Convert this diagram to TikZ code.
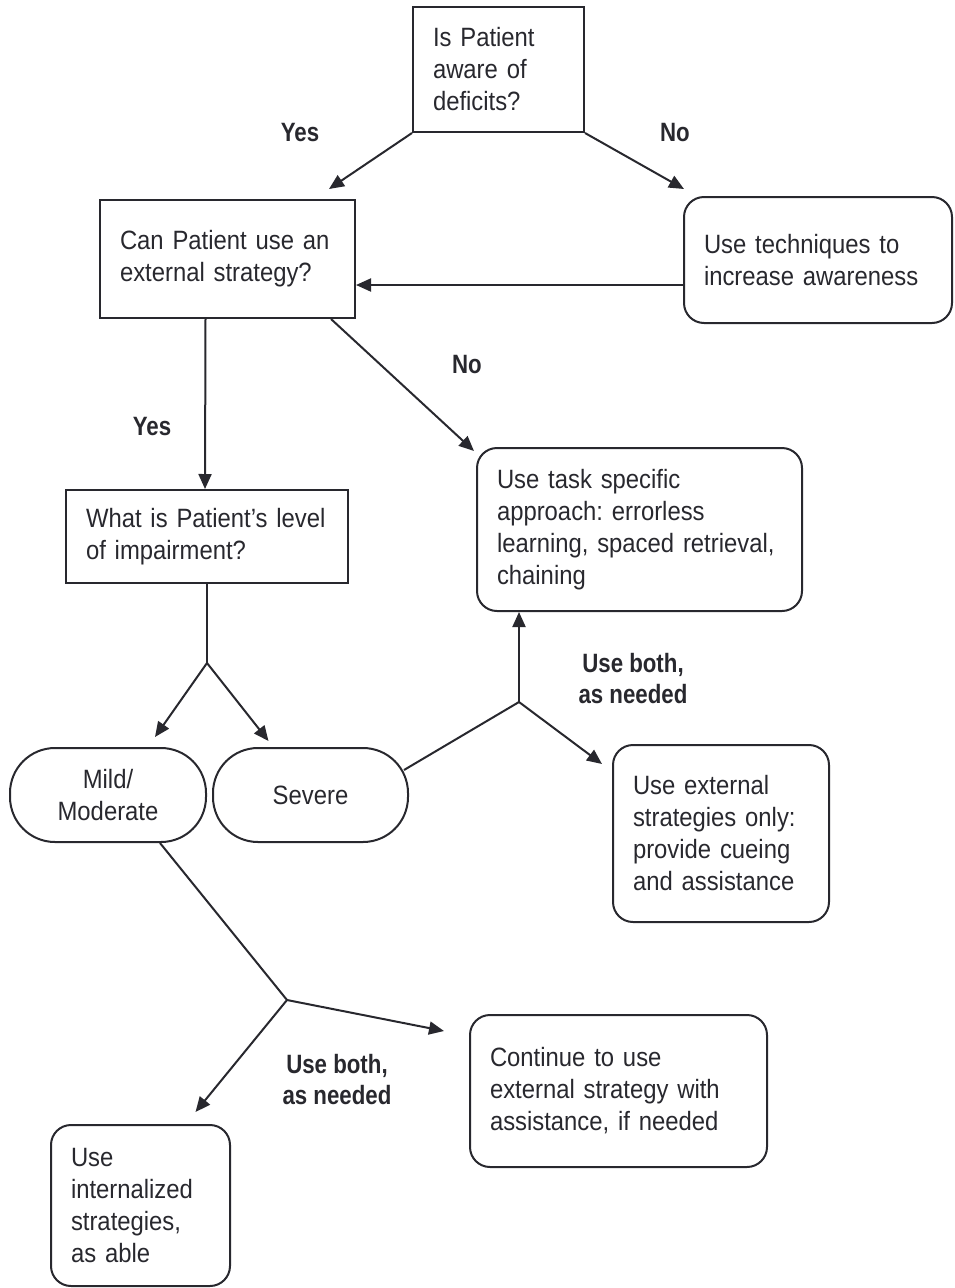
\documentclass[tikz,border=0pt]{standalone}
\usepackage{fontspec}
\setmainfont{Liberation Sans}[FakeStretch=0.9,BoldFeatures={FakeStretch=0.84}]
\usetikzlibrary{arrows.meta}
\definecolor{ink}{RGB}{40,40,46}
\frenchspacing
\tikzset{
  box/.style={draw=ink, line width=2pt, text=ink, inner xsep=20pt, inner ysep=0pt, align=left, font=\fontsize{26.5}{32}\selectfont},
  roundbox/.style={box, rounded corners=20pt},
  pill/.style={box, rounded corners=45pt, align=center, inner xsep=0pt},
  lbl/.style={text=ink, align=center, font=\fontsize{26.5}{31}\selectfont\bfseries},
  arr/.style={draw=ink, line width=2pt, -{Triangle[length=15pt,width=13pt]}},
  ln/.style={draw=ink, line width=2pt}
}
\begin{document}
\begin{tikzpicture}[x=1pt, y=-1pt]
\useasboundingbox (0,0) rectangle (954,1288);

% Preguntas
\node[box, minimum width=171pt, minimum height=125pt, text width=131pt] (q1) at (498.5,69.5) {Is Patient\\aware of\\deficits?};
\node[box, minimum width=255pt, minimum height=118pt, text width=215pt] (q2) at (227.5,259) {Can Patient use an\\external strategy?};
\node[box, minimum width=282pt, minimum height=93pt, text width=242pt] (level) at (207,536.5) {What is Patient's level\\of impairment?};

% Cajas redondeadas
\node[roundbox, minimum width=268pt, minimum height=126pt, text width=228pt] (aware) at (818,260) {Use techniques to\\increase awareness};
\node[roundbox, minimum width=325pt, minimum height=163pt, text width=285pt] (task) at (639.5,529.5) {Use task specific\\approach: errorless\\learning, spaced retrieval,\\chaining};
\node[roundbox, minimum width=216pt, minimum height=177pt, text width=176pt] (extonly) at (721,833.5) {Use external\\strategies only:\\provide cueing\\and assistance};
\node[roundbox, minimum width=297pt, minimum height=152pt, text width=257pt] (cont) at (618.5,1091) {Continue to use\\external strategy with\\assistance, if needed};
\node[roundbox, minimum width=179pt, minimum height=161pt, text width=139pt] (intern) at (140.5,1205.5) {Use\\internalized\\strategies,\\as able};

% Nivel
\node[pill, minimum width=196pt, minimum height=94pt] (mild) at (108,795) {Mild/\\Moderate};
\node[pill, minimum width=195pt, minimum height=94pt] (severe) at (310.5,795) {Severe};

% Puntos de ramificacion
\coordinate (split1) at (207,663);
\coordinate (split2) at (519,702);
\coordinate (split3) at (287,1000);

% Flechas
\draw[arr] (q1.south west) -- ([shift={(-27,-10)}]q2.north east);
\draw[arr] (q1.south east) -- ([shift={(1,-7)}]aware.north west);
\draw[arr] ([yshift=-25pt]aware.west) -- ([yshift=-25pt]aware.west -| q2.east);
\draw[arr] ([xshift=-22pt]q2.south) -- ([xshift=-2pt]level.north);
\draw[arr] ([xshift=-25pt]q2.south east) -- ([shift={(-2,4)}]task.north west);
\draw[ln] (level.south) -- (split1);
\draw[arr] (split1) -- ([shift={(47,-10)}]mild.north);
\draw[arr] (split1) -- ([shift={(-42,-6)}]severe.north);
\draw[ln] ([shift={(-5,-25)}]severe.east) -- (split2);
\draw[arr] (split2) -- (split2 |- task.south);
\draw[arr] (split2) -- ([shift={(-10,20)}]extonly.north west);
\draw[ln] ([xshift=52pt]mild.south) -- (split3);
\draw[arr] (split3) -- ([shift={(-25,17)}]cont.north west);
\draw[arr] (split3) -- ([shift={(55,-12)}]intern.north);

% Etiquetas
\node[lbl] (yes1) at (300,133) {Yes};
\node[lbl] (no1) at (675,133) {No};
\node[lbl] (yes2) at (152,427) {Yes};
\node[lbl] (no2) at (467,365) {No};
\node[lbl] (both1) at (633,679) {Use both,\\as needed};
\node[lbl] (both2) at (337,1080) {Use both,\\as needed};

\end{tikzpicture}
\end{document}
